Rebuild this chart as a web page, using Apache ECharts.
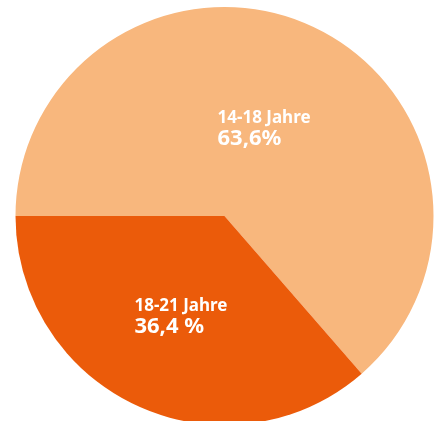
<!DOCTYPE html>
<html>
<head>
<meta charset="utf-8">
<script src="https://cdn.jsdelivr.net/npm/echarts@6/dist/echarts.min.js"></script>
<style>
    html, body { margin: 0; padding: 0; background: #fff; }
    #chart { width: 440px; height: 421px; }
</style>
</head>
<body>
<div id="chart"></div>
<script>
// Altersgruppen und Anteile (%)
var categories = ['14-18 Jahre', '18-21 Jahre'];
var values = [63.6, 36.4];
var valueLabels = ['63,6%', '36,4 %'];
var colors = ['#F8B77D', '#EB5B0A'];
// small nudges of the inside labels
var labelShift = [[-5, 11], [1, 3]];

var chart = echarts.init(document.getElementById('chart'));

var data = categories.map(function (name, i) {
    return {
        name: name,
        value: values[i],
        itemStyle: { color: colors[i] },
        label: { formatter: '{a|' + name + '}\n{b|' + valueLabels[i] + '}' }
    };
});

chart.setOption({
    animation: false,
    series: [{
        type: 'pie',
        center: [224.5, 216],
        radius: [0, 209],
        startAngle: 180,
        clockwise: true,
        silent: true,
        label: {
            show: true,
            position: 'inside',
            color: '#fff',
            fontFamily: 'Noto Sans',
            fontWeight: 'bold',
            rich: {
                a: { fontSize: 17, fontWeight: 'bold', fontFamily: 'Noto Sans', color: '#fff', align: 'left', lineHeight: 20 },
                b: { fontSize: 22, fontWeight: 'bold', fontFamily: 'Noto Sans', color: '#fff', align: 'left', lineHeight: 22 }
            }
        },
        labelLayout: function (params) {
            var s = labelShift[params.dataIndex];
            return { dx: s[0], dy: s[1] };
        },
        labelLine: { show: false },
        data: data
    }]
});
</script>
</body>
</html>
